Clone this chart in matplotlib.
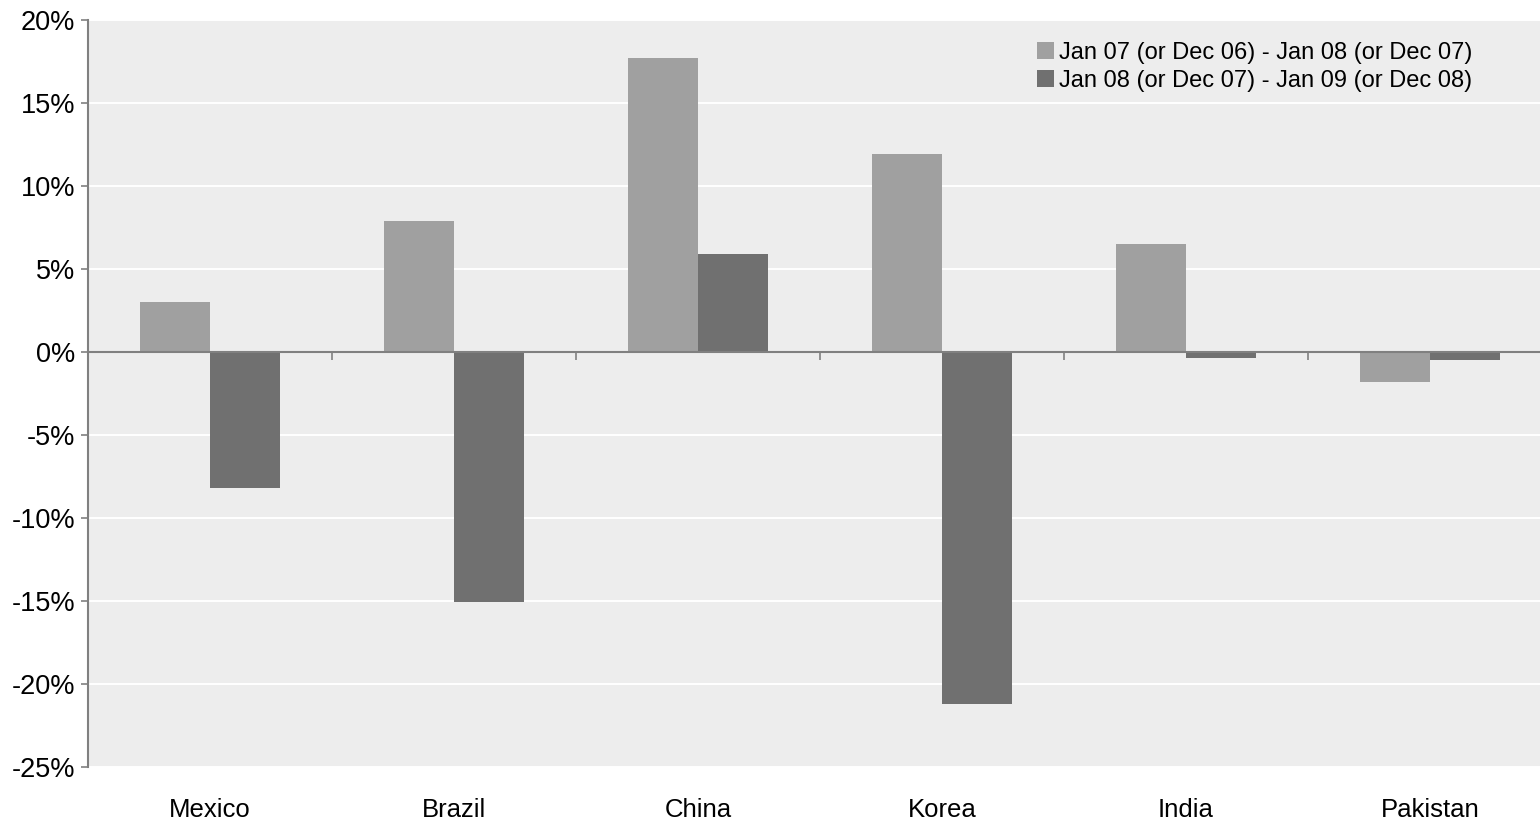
import numpy as np
import matplotlib
matplotlib.use("Agg")
import matplotlib.pyplot as plt
from matplotlib.ticker import FuncFormatter

plt.rcParams['font.family'] = ['Liberation Sans', 'DejaVu Sans']

paises = ["Mexico", "Brazil", "China", "Korea", "India", "Pakistan"]
serie_07_08 = [3.0, 7.9, 17.7, 11.9, 6.5, -1.8]
serie_08_09 = [-8.2, -15.1, 5.9, -21.2, -0.36, -0.48]
etiquetas = ["Jan 07 (or Dec 06) - Jan 08 (or Dec 07)",
             "Jan 08 (or Dec 07) - Jan 09 (or Dec 08)"]
yticks = [-25, -20, -15, -10, -5, 0, 5, 10, 15, 20]

gris_eje = "#808080"

fig = plt.figure(figsize=(15.4, 8.22), dpi=100)
ax = fig.add_axes([88 / 1540, 55.3 / 822, 1464 / 1540, 747 / 822])
ax.set_facecolor("#EDEDED")

x = np.arange(len(paises))
ancho = 0.287
ax.bar(x - ancho / 2, serie_07_08, ancho, color="#A0A0A0", label=etiquetas[0], zorder=2)
ax.bar(x + ancho / 2, serie_08_09, ancho, color="#707070", label=etiquetas[1], zorder=2)

ax.set_xlim(-0.5, len(paises) - 0.5)
ax.set_ylim(-25, 20)
ax.set_yticks(yticks)
ax.yaxis.set_major_formatter(FuncFormatter(lambda v, p: f"{v:.0f}%"))
ax.yaxis.grid(True, color="white", linewidth=1.4, zorder=1)
ax.set_axisbelow(True)

# ejes: izquierdo gris, eje x en el cero con marcas entre paises
for lado in ["top", "right"]:
    ax.spines[lado].set_visible(False)
ax.spines["left"].set_color(gris_eje)
ax.spines["left"].set_linewidth(1.5)
ax.spines["bottom"].set_position(("data", 0))
ax.spines["bottom"].set_color(gris_eje)
ax.spines["bottom"].set_linewidth(1.5)
ax.spines["bottom"].set_zorder(3)

ax.tick_params(axis="y", direction="out", length=5, width=1.2, color=gris_eje,
               labelsize=19.5, pad=4)
ax.set_xticks(x)
ax.set_xticks(x[:-1] + 0.5, minor=True)
ax.tick_params(axis="x", which="major", length=0, labelbottom=False)
ax.tick_params(axis="x", which="minor", direction="out", length=5.5, width=1.2,
               color=gris_eje)

for i, p in enumerate(paises):
    ax.text(i, -0.058, p, transform=ax.get_xaxis_transform(), ha="center", va="center",
            fontsize=18.5)

ax.legend(loc="upper left", bbox_to_anchor=(1037 / 1540, 1 - 42 / 822),
          bbox_transform=fig.transFigure, frameon=False, fontsize=17,
          handlelength=0.7, handleheight=0.7, handletextpad=0.25,
          labelspacing=0.25, borderpad=0, borderaxespad=0)

fig.savefig("out.png", dpi=100)
